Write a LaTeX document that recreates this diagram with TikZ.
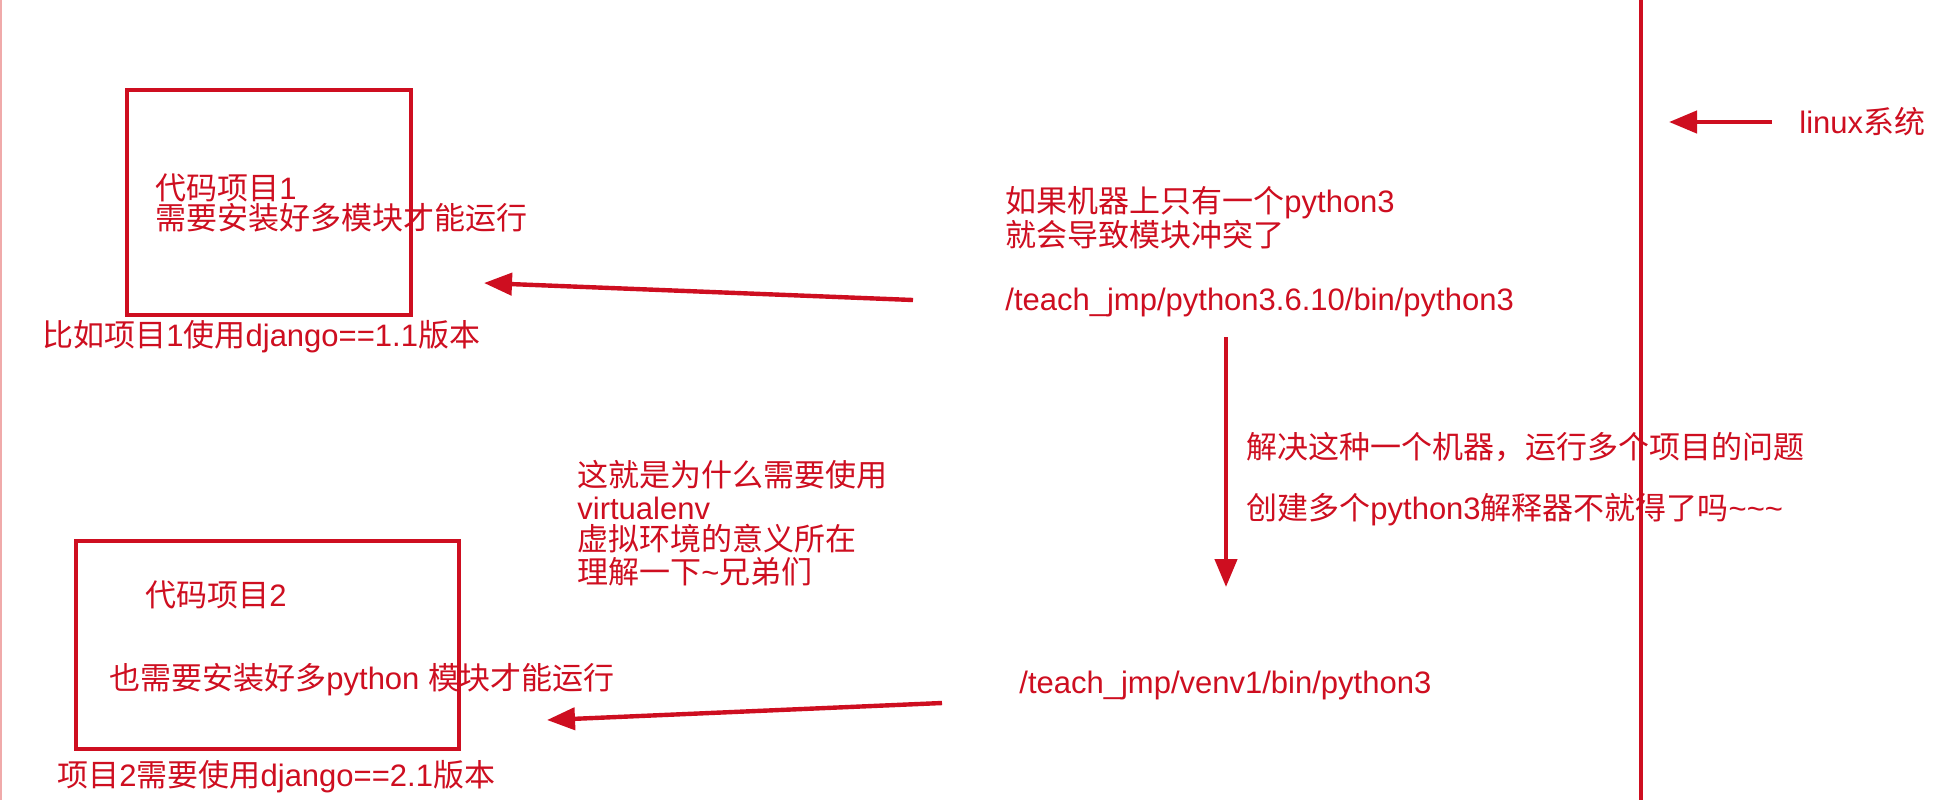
\documentclass[tikz,border=0pt]{standalone}
\usepackage{fontspec}
\setmainfont{Noto Sans CJK SC}
\newfontfamily\lat{Liberation Sans}
\usetikzlibrary{arrows.meta}
\definecolor{rd}{RGB}{206,14,32}
\definecolor{edgepink}{RGB}{240,170,170}
\begin{document}
\begin{tikzpicture}[x=0.5pt,y=-0.5pt,
  txt/.style={text=rd,inner sep=0pt,anchor=west,font=\fontsize{15.5}{15.5}\selectfont},
  projbox/.style={draw=rd,line width=2.3pt,inner sep=0pt},
  arr/.style={draw=rd,line width=2.2pt,-{Triangle[length=14pt,width=11pt]}},
  sysline/.style={draw=rd,line width=2pt},
]
\useasboundingbox (0,0) rectangle (1943,800);
\fill[white] (0,0) rectangle (1943,800);
% faint left edge
\coordinate (edgeTop) at (1,0);
\coordinate (edgeBot) at (1,800);
\draw[edgepink,line width=0.7pt] (edgeTop) -- (edgeBot);

% project boxes
\node[projbox,minimum width=142pt,minimum height=112.5pt] (box1) at (269,202.5) {};
\node[projbox,minimum width=191.5pt,minimum height=104pt] (box2) at (267.5,645) {};

% texts in / under box 1
\node[txt] (n1a) at (155,188) {代码项目{\lat 1}};
\node[txt] (n1b) at (155,218) {需要安装好多模块才能运行};
\node[txt] (n1c) at (42,337) {比如项目{\lat 1}使用{\lat django==1.1}版本};

% right side texts
\node[txt] (q1) at (1005,203) {如果机器上只有一个{\lat python3}};
\node[txt] (q2) at (1005,235) {就会导致模块冲突了};
\node[txt] (p1) at (1005,302) {\lat /teach\_jmp/python3.6.10/bin/python3};
\node[txt] (s1) at (1246,447) {解决这种一个机器，运行多个项目的问题};
\node[txt] (s2) at (1246,510) {创建多个{\lat python3}解释器不就得了吗{\lat \textasciitilde\textasciitilde\textasciitilde}};
\node[txt] (p2) at (1019,685) {\lat /teach\_jmp/venv1/bin/python3};

% middle block
\node[txt] (m1) at (577,475) {这就是为什么需要使用};
\node[txt] (m2) at (577,508) {\lat virtualenv};
\node[txt] (m3) at (577,539) {虚拟环境的意义所在};
\node[txt] (m4) at (577,572) {理解一下{\lat \textasciitilde}兄弟们};

% texts in / under box 2
\node[txt] (n2a) at (145,595) {代码项目{\lat 2}};
\node[txt] (n2b) at (109,680) {也需要安装好多{\lat python }模块才能运行};
\node[txt] (n2c) at (57,777) {项目{\lat 2}需要使用{\lat django==2.1}版本};

% linux system
\node[txt] (lx) at (1799,122) {{\lat linux}系统};
\coordinate (sysTop) at (1641,0);
\coordinate (sysBot) at (1641,800);
\draw[sysline] (sysTop) -- (sysBot);

% arrows
\coordinate (a1s) at (913,300);
\coordinate (a1e) at (484,283);
\draw[arr] (a1s) -- (a1e);
\coordinate (a2s) at (942,703);
\coordinate (a2e) at (547,720);
\draw[arr] (a2s) -- (a2e);
\coordinate (a3s) at (1226,337);
\coordinate (a3e) at (1226,587);
\draw[arr] (a3s) -- (a3e);
\coordinate (a4s) at (1772,122);
\coordinate (a4e) at (1669,122);
\draw[arr] (a4s) -- (a4e);
\end{tikzpicture}
\end{document}
